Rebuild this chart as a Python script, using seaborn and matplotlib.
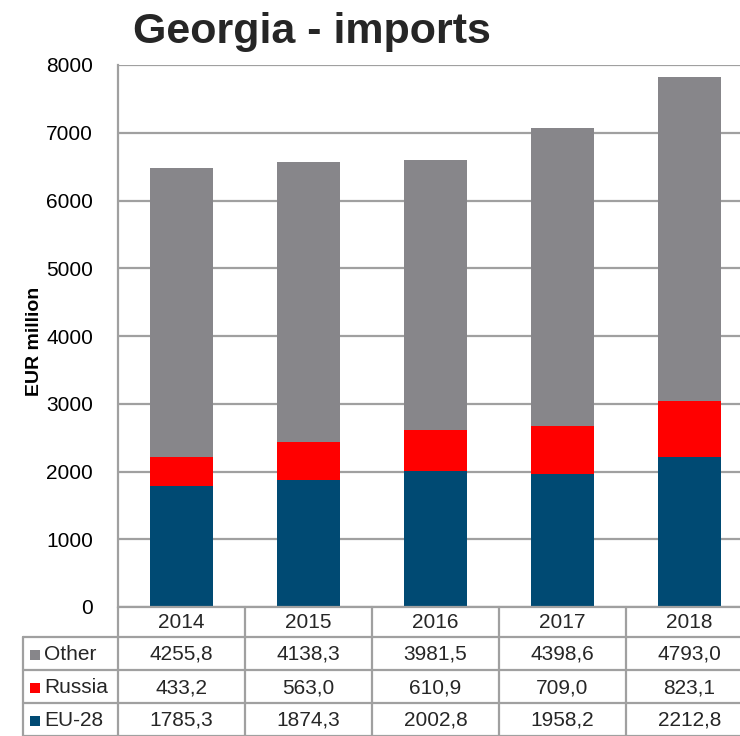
import matplotlib
matplotlib.use("Agg")
import matplotlib.pyplot as plt
import matplotlib.transforms as mtransforms
from matplotlib.lines import Line2D
from matplotlib.patches import Rectangle
import seaborn as sns
import pandas as pd
import numpy as np

years = ["2014", "2015", "2016", "2017", "2018"]
eu28 = [1785.3, 1874.3, 2002.8, 1958.2, 2212.8]
russia = [433.2, 563.0, 610.9, 709.0, 823.1]
other = [4255.8, 4138.3, 3981.5, 4398.6, 4793.0]
series_names = ["Other", "Russia", "EU-28"]
colors = {"Other": "#87868a", "Russia": "#ff0000", "EU-28": "#004a73"}
yticks = [0, 1000, 2000, 3000, 4000, 5000, 6000, 7000, 8000]

sns.set_theme(style="white")
plt.rcParams["font.family"] = ["Liberation Sans", "DejaVu Sans"]

W, H = 740, 736
fig = plt.figure(figsize=(W / 100, H / 100), dpi=100)
left_px, right_px, top_px, bot_px = 118, 753, 65, 607
ax = fig.add_axes([left_px / W, 1 - bot_px / H, (right_px - left_px) / W, (bot_px - top_px) / H])

df = pd.DataFrame({"year": years, "EU-28": eu28, "Russia": russia, "Other": other})
df["c_eu"] = df["EU-28"]
df["c_ru"] = df["EU-28"] + df["Russia"]
df["c_ot"] = df["c_ru"] + df["Other"]

for col, name in [("c_ot", "Other"), ("c_ru", "Russia"), ("c_eu", "EU-28")]:
    sns.barplot(data=df, x="year", y=col, color=colors[name], width=0.5,
                saturation=1, ax=ax, zorder=3, edgecolor="none", linewidth=0)

ax.set_ylim(0, 8000)
ax.set_xlim(-0.5, 4.5)
ax.set_yticks(yticks)
ax.set_yticklabels([str(t) for t in yticks], fontsize=15, color="black")
ax.set_xticks([])
ax.set_xlabel("")
ax.tick_params(axis="y", length=0, pad=18)
ax.grid(axis="y", color="#a0a0a0", linewidth=1.6, zorder=0)
ax.set_axisbelow(True)
for s in ["right", "bottom", "top"]:
    ax.spines[s].set_visible(False)
ax.spines["left"].set_color("#a0a0a0")
ax.spines["left"].set_linewidth(1.6)
ax.set_ylabel("EUR million", fontsize=14, fontweight="bold", color="black")
ax.yaxis.set_label_coords(-0.118, 0.49)

fig.text(312 / W, 1 - 32 / H, "Georgia - imports", fontsize=31, fontweight="bold",
         ha="center", va="center")

# table in pixel coordinates
tr = mtransforms.Affine2D().scale(1 / W, -1 / H).translate(0, 1) + fig.transFigure
gc = "#a0a0a0"
row_y = [607, 637, 670, 703, 736]
col_w = (right_px - left_px) / len(years)
col_x = [left_px + i * col_w for i in range(len(years) + 1)]
tl = 23

def line(x0, y0, x1, y1):
    fig.add_artist(Line2D([x0, x1], [y0, y1], transform=tr, color=gc, linewidth=1.6, clip_on=False))

line(left_px, row_y[0], right_px, row_y[0])
for y in row_y[1:]:
    line(tl, y, right_px, y)
for x in col_x:
    line(x, row_y[0], x, 740)
line(tl, row_y[1], tl, 740)

for i, yr in enumerate(years):
    cx = left_px + col_w * (i + 0.5)
    fig.text(cx, (row_y[0] + row_y[1]) / 2 + 1, yr, transform=tr, fontsize=15,
             ha="center", va="center")

rows = [("Other", other), ("Russia", russia), ("EU-28", eu28)]
for r, (name, vals) in enumerate(rows):
    yc = (row_y[r + 1] + row_y[r + 2]) / 2 + 1
    fig.add_artist(Rectangle((30, yc - 5), 10, 10, transform=tr, facecolor=colors[name],
                             edgecolor="none", clip_on=False))
    fig.text(44, yc, name, transform=tr, fontsize=15, ha="left", va="center")
    for i, v in enumerate(vals):
        cx = left_px + col_w * (i + 0.5)
        fig.text(cx, yc, f"{v:.1f}".replace(".", ","), transform=tr, fontsize=15,
                 ha="center", va="center")

fig.savefig("out.png", dpi=100)
